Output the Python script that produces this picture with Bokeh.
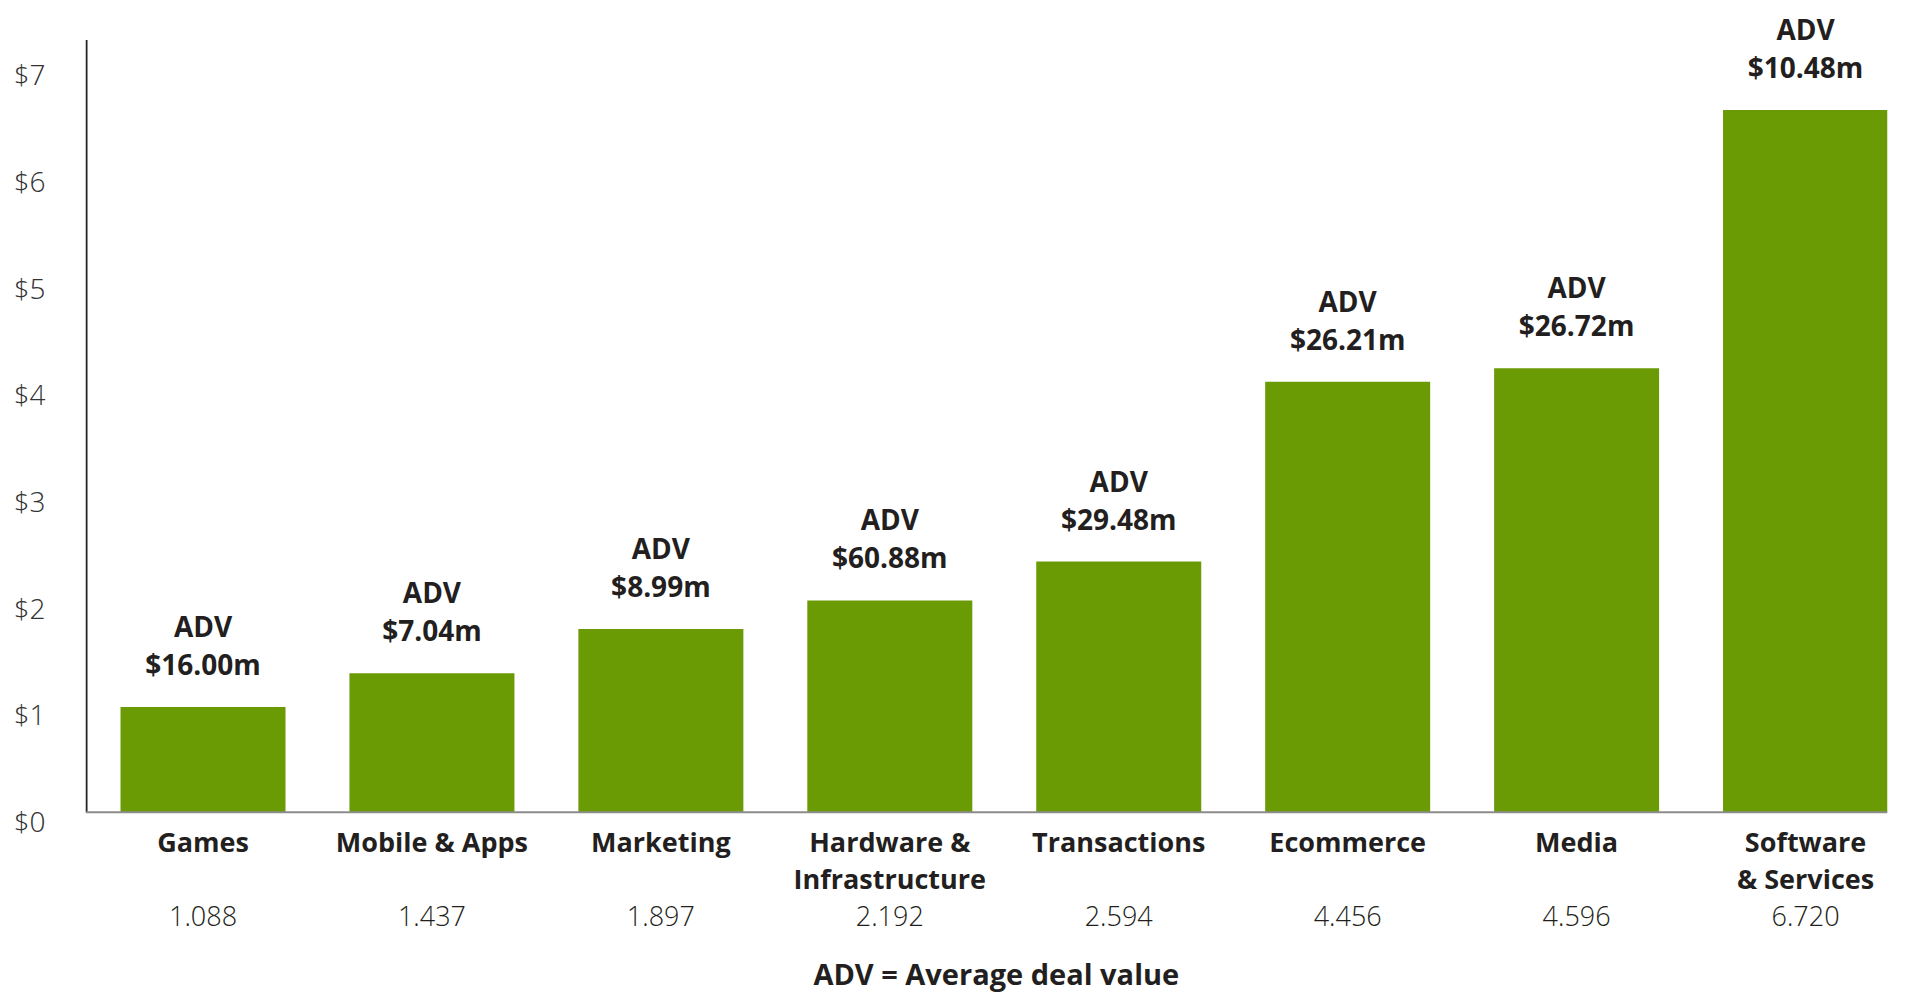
from bokeh.plotting import figure
from bokeh.models import Range1d, LinearAxis, FixedTicker, NumeralTickFormatter, Span, ColumnDataSource
from bokeh.core.properties import value
from bokeh.embed import file_html
from bokeh.resources import INLINE

# ---------------- data ----------------
categories = ["Games", "Mobile & Apps", "Marketing", "Hardware &\nInfrastructure",
              "Transactions", "Ecommerce", "Media", "Software\n& Services"]
bar_values = [1.088, 1.437, 1.897, 2.192, 2.594, 4.456, 4.596, 7.27]
deal_counts = ["1.088", "1.437", "1.897", "2.192", "2.594", "4.456", "4.596", "6.720"]
adv_values = ["$16.00m", "$7.04m", "$8.99m", "$60.88m", "$29.48m", "$26.21m", "$26.72m", "$10.48m"]
adv_prefix = "ADV"
y_ticks = [0, 1, 2, 3, 4, 5, 6, 7]
note = "ADV = Average deal value"

# ---------------- styling ----------------
GREEN = "#6A9A04"
INK = "#231F20"
BOLD_NAME = "Open Sans"
LIGHT_NAME = "Open Sans Light"
BOLD_FONT = value(BOLD_NAME)
LIGHT_FONT = value(LIGHT_NAME)

W, H = 1908, 993
idx = list(range(len(categories)))
line1 = [c.split("\n")[0] for c in categories]
line2 = [c.split("\n")[1] if "\n" in c else "" for c in categories]

src = ColumnDataSource(dict(
    x=idx, top=bar_values, zero=[0] * len(idx),
    adv=[adv_prefix] * len(idx), advv=adv_values,
    l1=line1, l2=line2, cnt=deal_counts,
))

axis_x = -0.5089
p = figure(width=W, height=H, output_backend="svg", toolbar_location=None,
           x_range=Range1d(-0.5133, 7.358), y_range=Range1d(-1.877, 8.4027),
           x_axis_location=None, y_axis_location=None,
           min_border_left=85, min_border_right=21, min_border_top=0, min_border_bottom=0)
p.outline_line_color = None
p.background_fill_color = "white"
p.border_fill_color = "white"
p.grid.grid_line_color = None

# tick labels of the left axis use their own scale
p.extra_y_ranges = {"ticks": Range1d(-1.6167, 7.6898)}
yax = LinearAxis(y_range_name="ticks", ticker=FixedTicker(ticks=y_ticks),
                 formatter=NumeralTickFormatter(format="$0"),
                 axis_line_color=None, major_tick_line_color=None, minor_tick_line_color=None,
                 major_label_standoff=34, major_label_text_font=LIGHT_NAME,
                 major_label_text_font_size="28px", major_label_text_color="#333333")
p.add_layout(yax, "left")

# bars
p.vbar(x="x", top="top", bottom="zero", width=0.7207, source=src,
       fill_color=GREEN, line_color=None)

# baseline and vertical axis line
p.add_layout(Span(location=0, dimension="width", line_color="#8C8C8C", line_width=2))
p.segment(x0=[axis_x], y0=[0], x1=[axis_x], y1=[7.994], line_color=INK, line_width=2)

# labels above bars
common_bold = dict(text_font=BOLD_FONT, text_font_style="bold", text_align="center",
                   text_baseline="alphabetic", text_color=INK, source=src)
p.text(x="x", y="top", text="adv", y_offset=-81, text_font_size="28px", **common_bold)
p.text(x="x", y="top", text="advv", y_offset=-43, text_font_size="28px", **common_bold)

# category labels below
p.text(x="x", y="zero", text="l1", y_offset=29, text_font_size="27px", **common_bold)
p.text(x="x", y="zero", text="l2", y_offset=66, text_font_size="27px", **common_bold)

# deal counts
p.text(x="x", y="zero", text="cnt", y_offset=104, text_font=LIGHT_FONT, text_font_size="27px",
       text_align="center", text_baseline="alphabetic", text_color=INK, source=src)

# note
p.text(x=[sum(idx) / len(idx)], y=[0], text=[note], x_offset=-8, y_offset=161,
       text_font=BOLD_FONT, text_font_style="bold", text_font_size="29px",
       text_align="center", text_baseline="alphabetic", text_color=INK)

open("out.html", "w").write(file_html(p, INLINE))
